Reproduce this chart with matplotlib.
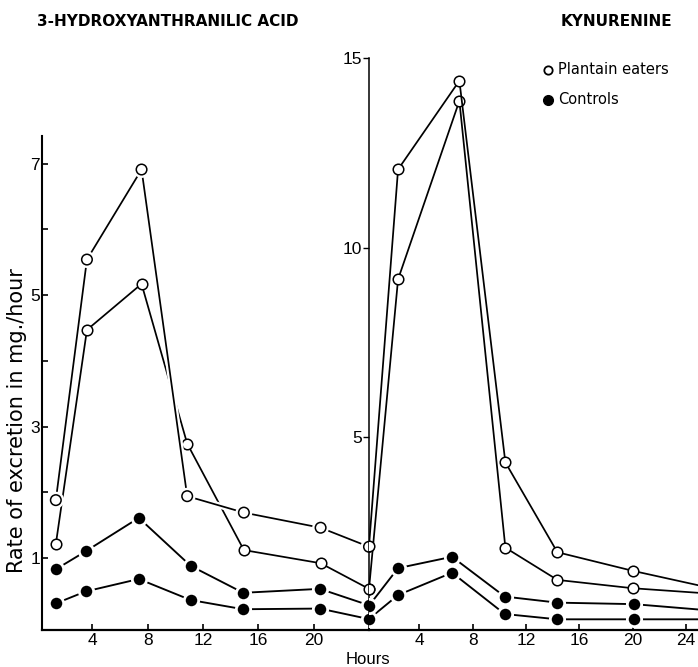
import matplotlib
matplotlib.use("Agg")
import matplotlib.pyplot as plt
import matplotlib.patheffects as pe

# 3-hydroxyanthranilic acid (left panel), hours vs mg/hour
hao_hours_open = [1.35, 3.6, 7.55, 10.85, 14.95, 20.5, 24.0]
hao_plantain_a = [1.88, 5.54, 6.91, 1.94, 1.69, 1.46, 1.17]
hao_plantain_b = [1.21, 4.47, 5.17, 2.74, 1.12, 0.92, 0.53]
hao_hours_ctrl = [1.37, 3.5, 7.35, 11.1, 14.9, 20.45, 24.0]
hao_control_a = [0.83, 1.10, 1.61, 0.88, 0.47, 0.53, 0.28]
hao_control_b = [0.31, 0.49, 0.68, 0.36, 0.22, 0.23, 0.07]

# kynurenine (right panel); last value is where the line leaves the picture
kyn_hours_open = [0.22, 2.4, 7.0, 10.45, 14.35, 20.0, 24.9]
kyn_plantain_a = [2.12, 12.06, 14.4, 4.33, 1.96, 1.47, 1.09]
kyn_plantain_b = [0.99, 9.16, 13.87, 2.08, 1.23, 1.01, 0.89]
kyn_hours_ctrl = [0.22, 2.4, 6.45, 10.4, 14.35, 20.1, 24.9]
kyn_control_a = [0.55, 1.54, 1.84, 0.79, 0.63, 0.59, 0.45]
kyn_control_b = [0.20, 0.83, 1.42, 0.33, 0.19, 0.19, 0.19]

plt.rcParams['font.family'] = ['Liberation Sans', 'DejaVu Sans']

W, H = 698, 667
fig = plt.figure(figsize=(W / 100, H / 100), dpi=100)

def box(x0, y0, x1, y1):
    # pixel box (top-left origin) -> figure fraction rect
    return [x0 / W, 1 - y1 / H, (x1 - x0) / W, (y1 - y0) / H]

ax1 = fig.add_axes(box(42, 136, 369, 630))
ax2 = fig.add_axes(box(369, 58, 698, 630))

open_style = dict(marker='o', ms=7.6, mfc='white', mec='black', mew=1.1,
                  color='black', lw=1.25, clip_on=False)
fill_style = dict(marker='o', ms=10.3, mfc='black', mec='white', mew=2.0,
                  color='black', lw=1.35, clip_on=False)
halo = [pe.Stroke(linewidth=4.5, foreground='white'), pe.Normal()]

# left panel
ax1.plot(hao_hours_ctrl, hao_control_b, **fill_style, zorder=3)
ax1.plot(hao_hours_ctrl, hao_control_a, **fill_style, zorder=3)
ax1.plot(hao_hours_open, hao_plantain_b, **open_style, zorder=4)
ax1.plot(hao_hours_open, hao_plantain_a, **open_style, zorder=5, path_effects=halo)

ax1.set_xlim(0.35, 24.0)
ax1.set_ylim(-0.096, 7.42)
ax1.set_xticks([4, 8, 12, 16, 20, 24], labels=['4', '8', '12', '16', '20', ''])
ax1.set_yticks([1, 2, 3, 4, 5, 6, 7], labels=['1', '', '3', '', '5', '', '7'])
ax1.tick_params(direction='in', length=4.5, width=1.2, labelsize=12.5, pad=1.5)
ax1.tick_params(axis='x', pad=2.5)

# right panel
ax2.plot(kyn_hours_ctrl, kyn_control_b, **{**fill_style, 'clip_on': True},
         markevery=slice(0, -1), zorder=3)
ax2.plot(kyn_hours_ctrl, kyn_control_a, **{**fill_style, 'clip_on': True},
         markevery=slice(0, -1), zorder=3)
ax2.plot(kyn_hours_open, kyn_plantain_b, **{**open_style, 'clip_on': True},
         markevery=slice(0, -1), zorder=4)
ax2.plot(kyn_hours_open, kyn_plantain_a, **{**open_style, 'clip_on': True},
         markevery=slice(0, -1), zorder=5)

ax2.set_xlim(0.22, 24.9)
ax2.set_ylim(-0.092, 15.0)
ax2.set_xticks([4, 8, 12, 16, 20, 24])
ax2.set_yticks([5, 10, 15])
ax2.tick_params(axis='x', direction='in', length=4.5, width=1.2, labelsize=12.5, pad=2.5)
ax2.tick_params(axis='y', direction='out', length=4.5, width=1.0, labelsize=12.5, pad=0.5)

for ax in (ax1, ax2):
    ax.patch.set_visible(False)
    ax.spines['top'].set_visible(False)
    ax.spines['right'].set_visible(False)
    ax.spines['bottom'].set_linewidth(1.6)
ax1.spines['left'].set_linewidth(1.5)
ax2.spines['left'].set_linewidth(1.1)

# titles
fig.text(37 / W, 1 - 21 / H, '3-HYDROXYANTHRANILIC ACID', fontsize=11,
         fontweight='bold', family='DejaVu Sans', va='center', ha='left')
fig.text(561 / W, 1 - 21 / H, 'KYNURENINE', fontsize=11,
         fontweight='bold', family='DejaVu Sans', va='center', ha='left')

# legend keys
ax2.plot([548 / W], [1 - 70 / H], transform=fig.transFigure, clip_on=False,
         marker='o', ms=6, mfc='white', mec='black', mew=1.3, ls='none')
ax2.plot([548 / W], [1 - 100 / H], transform=fig.transFigure, clip_on=False,
         marker='o', ms=7, mfc='black', mec='black', ls='none')
fig.text(558 / W, 1 - 70 / H, 'Plantain eaters', fontsize=10.5,
         family='DejaVu Sans', va='center', ha='left')
fig.text(558 / W, 1 - 100 / H, 'Controls', fontsize=10.5,
         family='DejaVu Sans', va='center', ha='left')

fig.text(17 / W, 1 - 421 / H, 'Rate of excretion in mg./hour', rotation=90,
         fontsize=15, family='DejaVu Sans', va='center', ha='center')
fig.text(368 / W, 1 - 660 / H, 'Hours', fontsize=12, va='center', ha='center')

fig.savefig('out.png', dpi=100)
